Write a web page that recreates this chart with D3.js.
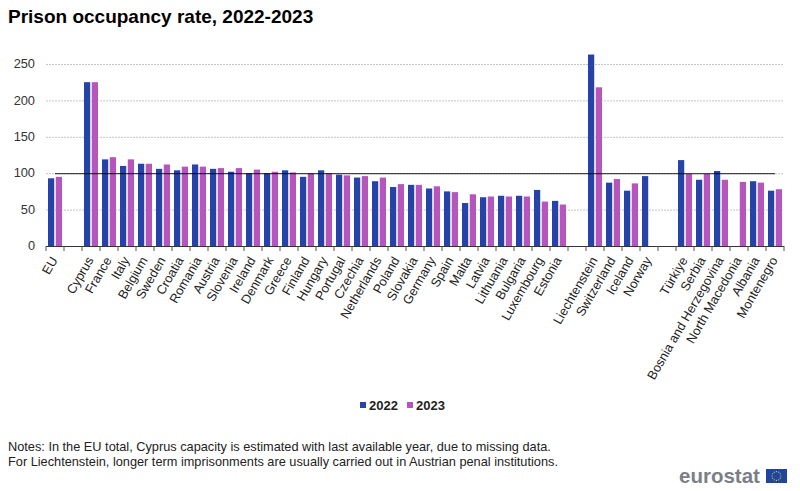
<!DOCTYPE html>
<html>
<head>
<meta charset="utf-8">
<script src="https://cdn.jsdelivr.net/npm/d3@7"></script>
<style>
  html, body { margin: 0; padding: 0; background: #fff; }
  text { font-family: "Liberation Sans", Arial, sans-serif; }
</style>
</head>
<body>
<div id="chart"></div>
<script>
// empty strings are the gaps between country groups
var categories = ["EU", "", "Cyprus", "France", "Italy", "Belgium", "Sweden", "Croatia", "Romania", "Austria",
  "Slovenia", "Ireland", "Denmark", "Greece", "Finland", "Hungary", "Portugal", "Czechia", "Netherlands",
  "Poland", "Slovakia", "Germany", "Spain", "Malta", "Latvia", "Lithuania", "Bulgaria", "Luxembourg", "Estonia",
  "", "Liechtenstein", "Switzerland", "Iceland", "Norway", "", "Türkiye", "Serbia", "Bosnia and Herzegovina",
  "North Macedonia", "Albania", "Montenegro"];

var values2022 = [93, null, 225, 119, 110, 113, 106, 104, 112, 106,
  102, 100, 100, 104, 95, 104, 98, 94, 89,
  81, 84, 79, 75, 59, 67, 69, 69, 77, 62,
  null, 263, 87, 76, 96, null, 118, 91, 103,
  null, 89, 76];

var values2023 = [95, null, 225, 122, 119, 113, 112, 109, 109, 107,
  107, 105, 102, 101, 100, 100, 97, 96, 94,
  85, 84, 82, 74, 71, 68, 68, 68, 61, 57,
  null, 218, 92, 86, null, null, 99, 99, 91,
  88, 87, 78];

var yTicks = [0, 50, 100, 150, 200, 250];
var seriesNames = ["2022", "2023"];
var seriesColors = ["#2644a7", "#b656bd"];
var referenceValue = 100;

var notes = [
  "Notes: In the EU total, Cyprus capacity is estimated with last available year, due to missing data.",
  "For Liechtenstein, longer term imprisonments are usually carried out in Austrian penal institutions."
];

var width = 800, height = 491;
var plotLeft = 46, plotRight = 784, plotTop = 64, plotBottom = 246;

var svg = d3.select("#chart").append("svg")
  .attr("width", width)
  .attr("height", height)
  .style("display", "block");

var x = d3.scaleBand().domain(d3.range(categories.length)).range([plotLeft, plotRight]);
var y = d3.scaleLinear().domain([0, 250]).range([plotBottom, plotTop]);
var xInner = d3.scaleBand().domain([0, 1]).range([2, x.bandwidth() - 2]).paddingInner(0.2);

svg.append("text")
  .attr("x", 8)
  .attr("y", 23)
  .attr("font-size", 19)
  .attr("font-weight", "bold")
  .attr("fill", "#000")
  .text("Prison occupancy rate, 2022-2023");

// gridlines
svg.append("g").selectAll("line")
  .data(yTicks.slice(1))
  .join("line")
  .attr("x1", plotLeft)
  .attr("x2", plotRight)
  .attr("y1", function(d) { return y(d) + 0.5; })
  .attr("y2", function(d) { return y(d) + 0.5; })
  .attr("stroke", "#c4c4c4")
  .attr("stroke-width", 1)
  .attr("stroke-dasharray", "2,1");

// bars
[values2022, values2023].forEach(function(values, s) {
  svg.append("g").selectAll("rect")
    .data(values.map(function(v, i) { return { i: i, v: v }; }).filter(function(d) { return d.v !== null; }))
    .join("rect")
    .attr("x", function(d) { return x(d.i) + xInner(s); })
    .attr("width", xInner.bandwidth())
    .attr("y", function(d) { return y(d.v); })
    .attr("height", function(d) { return plotBottom - y(d.v); })
    .attr("fill", seriesColors[s]);
});

// reference line at 100, from the first to the last category centre
svg.append("line")
  .attr("x1", x(0) + x.bandwidth() / 2)
  .attr("x2", x(categories.length - 1) + x.bandwidth() / 2)
  .attr("y1", y(referenceValue) + 0.5)
  .attr("y2", y(referenceValue) + 0.5)
  .attr("stroke", "#000")
  .attr("stroke-opacity", 0.7)
  .attr("stroke-width", 1.2);

// y axis labels
var yAxis = d3.axisLeft(y).tickValues(yTicks).tickSize(0).tickPadding(0);
var yG = svg.append("g").attr("transform", "translate(35,-0.5)").call(yAxis);
yG.select(".domain").remove();
yG.selectAll("text")
  .attr("font-size", 12.8)
  .attr("font-family", "\"Liberation Sans\", Arial, sans-serif")
  .attr("fill", "#333");

// x axis: line and ticks on band edges, labels rotated on band centres
var xG = svg.append("g");
xG.append("line")
  .attr("x1", plotLeft).attr("x2", plotRight)
  .attr("y1", plotBottom + 0.5).attr("y2", plotBottom + 0.5)
  .attr("stroke", "#333");
xG.selectAll("line.tick")
  .data(d3.range(categories.length + 1))
  .join("line")
  .attr("class", "tick")
  .attr("x1", function(i) { return plotLeft + i * x.step(); })
  .attr("x2", function(i) { return plotLeft + i * x.step(); })
  .attr("y1", plotBottom)
  .attr("y2", plotBottom + 5)
  .attr("stroke", "#555");
xG.selectAll("text")
  .data(categories)
  .join("text")
  .attr("transform", function(d, i) {
    return "translate(" + (x(i) + x.bandwidth() / 2 + 3) + "," + (plotBottom + 14) + ") rotate(-60)";
  })
  .attr("text-anchor", "end")
  .attr("font-size", 12.8)
  .attr("fill", "#222")
  .text(function(d) { return d; });

// legend
var legendX = [360, 407];
seriesNames.forEach(function(name, s) {
  svg.append("rect")
    .attr("x", legendX[s]).attr("y", 402)
    .attr("width", 6).attr("height", 6)
    .attr("fill", seriesColors[s]);
  svg.append("text")
    .attr("x", legendX[s] + 9).attr("y", 409.5)
    .attr("font-size", 13)
    .attr("font-weight", "bold")
    .attr("fill", "#222")
    .text(name);
});

// notes
svg.append("g").selectAll("text")
  .data(notes)
  .join("text")
  .attr("x", 8)
  .attr("y", function(d, i) { return 451 + i * 15; })
  .attr("font-size", 12.75)
  .attr("fill", "#222")
  .text(function(d) { return d; });

// eurostat logo
svg.append("text")
  .attr("x", 679)
  .attr("y", 483)
  .attr("font-size", 20.5)
  .attr("font-weight", "bold")
  .attr("fill", "#7b7f87")
  .text("eurostat");

svg.append("rect")
  .attr("x", 766).attr("y", 469)
  .attr("width", 21).attr("height", 14)
  .attr("fill", "#1f459c");

svg.append("g").selectAll("circle")
  .data(d3.range(12))
  .join("circle")
  .attr("cx", function(i) { return 776.5 + 4.4 * Math.cos(i * Math.PI / 6); })
  .attr("cy", function(i) { return 476 + 4.4 * Math.sin(i * Math.PI / 6); })
  .attr("r", 0.6)
  .attr("fill", "#e8d23a");
</script>
</body>
</html>
